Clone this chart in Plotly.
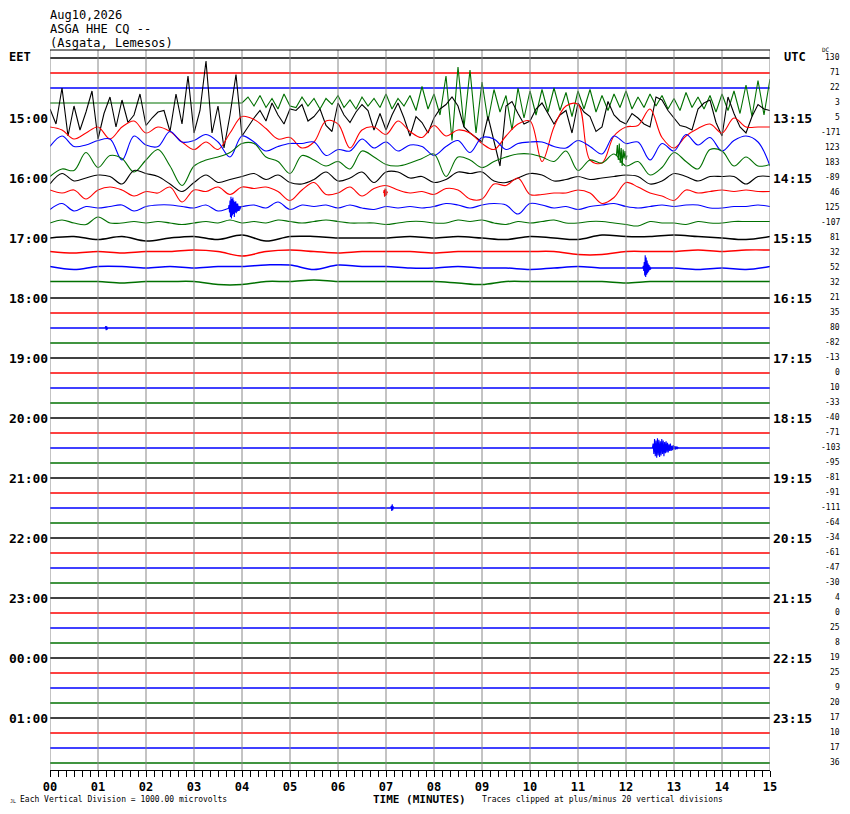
import plotly.graph_objects as go

# helicorder layout: 48 rows of 15 minutes, one division between rows
N_ROWS = 48
TOP_PAD = 8 / 15
COLORS = ['black', 'red', 'blue', '#007000']

EET_LABELS = ['15:00', '16:00', '17:00', '18:00', '19:00', '20:00',
              '21:00', '22:00', '23:00', '00:00', '01:00']
UTC_LABELS = ['13:15', '14:15', '15:15', '16:15', '17:15', '18:15',
              '19:15', '20:15', '21:15', '22:15', '23:15']
DC_VALUES = [130, 71, 22, 3, 5, -171, 123, 183, -89, 46, 125, -107,
             81, 32, 52, 32, 21, 35, 80, -82, -13, 0, 10, -33,
             -40, -71, -103, -95, -81, -91, -111, -64, -34, -61, -47, -30,
             4, 0, 25, 8, 19, 25, 9, 20, 17, 10, 17, 36]
MINUTE_LABELS = ['%02d' % m for m in range(16)]

# row 3 (green) and row 4 (black), sampled every 1/8 minute, in divisions
row3 = [0.0] * 33 + [
    0.4, -0.2, 0.5, -0.3, 0.3, -0.4, 0.6, -0.2,
    -0.3, 0.4, -0.2, 0.3, -0.4, 0.3, -0.1, 0.5, -0.3, 0.2, -0.4, 0.4, -0.2, 0.3,
    -0.3, 0.6, -0.4, 0.3, -0.2, 0.5, -0.5, 1.1, -0.4, 0.6, -0.8, 1.8, -2.5, 2.4,
    -1.6, 2.2, -2.0, 1.4, -1.2, 0.9, -0.6, 0.5, -1.8, 1.0, -1.0, 0.8,
    -0.8, 0.9, -0.6, 1.0, -0.5, 0.7, -0.9, 0.8, -0.4, 0.9, -0.6, 0.5, -0.5, 0.6,
    -0.3, 0.8, -0.4, 0.4, -0.3, 0.6, -0.2, 0.5, -0.4, 0.3, -0.5, 0.7, -0.3, 0.4,
    -0.4, 0.5, -0.6, 0.6, -0.5, 0.8, -0.7, 1.2, -0.9, 1.5, -0.8, 1.6]
row4 = [
    0.6, -0.4, 2.0, -1.2, 0.8, -0.8, 0.4, 1.8, -1.4, 0.3, 1.4, -0.6, 1.2, -0.3,
    0.2, 1.6, -0.5, 0.0, 0.4, 0.5, -0.9, 1.6, -0.4, 2.8, -1.0, 0.5, 3.8, -1.0,
    0.8, -2.0, 0.2, 2.9, -1.2, -0.6, 0.0, 0.5, -0.2, 1.0, 0.2, -0.4, 0.6,
    0.5, 0.9, -0.2, 0.1, 0.6, -0.5, -0.9, 1.0, 0.2, -0.3, 0.4, 0.9, 0.5, -0.8,
    0.3, -0.8, 0.2, 1.0, 0.0, -1.2, 0.1, -0.3, -1.0, 0.0, 0.6, 0.9, 1.4, 0.8,
    -0.6, -1.0, -1.3, -1.6, 0.1, -1.5, -3.2, 0.8, 1.1, 0.3, -0.4, -0.2,
    0.6, 1.0, 0.3, -0.4, 0.2, 0.5, -1.0, 1.0, 0.4, 0.1, -0.9, -0.6, 1.1, 0.2,
    -0.2, -0.4, 0.3, 0.0, -0.4, -0.6, 1.4, 1.2, 0.5, 0.0, -0.5, -0.6, -0.8, 0.6,
    1.0, 1.2, -0.3, -1.2, 1.4, 0.3, -0.6, -1.0, 0.1, 0.9, 0.6, 0.5]

# rows 5-11, sampled every 1/4 minute
row5 = [0.4, 0.2, -0.4, 0.0, 0.4, -0.4, 0.4, 0.8, 0.0, 0.4, 0.1, -0.6, -1.1, -0.6,
        -1.1, 0.0, 1.1, 0.9, 0.3, -0.4, -0.3,
        -1.0, -0.6, 0.8, 0.6, -1.0, 0.2, 0.4, -0.1, 0.8, 0.1, -0.3, 0.5, -0.2, 0.2,
        0.0, -0.7, -1.1, -0.2, 0.6, 0.8,
        -1.9, 0.4, 1.8, 1.9, -1.8, -2.0, -0.2, 0.4, 0.5, 1.6, -0.3, -1.0, -0.2, 0.3,
        0.6, 0.0, 1.0, 0.4, 0.4, 0.4]
row6 = [0.1, 0.8, 0.1, 0.2, 0.5, 0.6, -0.8, 0.8, 0.2, 0.1, 1.1, 0.4, 0.5, 0.9,
        0.4, -0.6, 0.8, 0.4, -0.2, 0.1, 0.3,
        0.3, 0.4, -0.5, -0.1, -0.2, 0.6, 0.0, 0.4, -0.2, 0.2, 0.1, -0.5, 0.1, 0.5,
        -0.3, 0.7, 0.6, -0.1, 0.3, 0.4,
        0.4, 0.1, 0.0, 0.5, 0.1, -0.4, 0.8, 0.3, 0.4, -0.8, 0.3, -0.2, 0.9, 0.2,
        0.7, -0.2, 0.5, 0.8, 0.4, -1.2]
row7 = [-0.9, -0.4, -0.5, 0.7, -0.3, 0.5, 0.3, -0.6, 0.2, 0.9, -0.2, -1.5, -0.2,
        0.2, 0.4, 0.7, 1.3, 1.3, 0.4, 0.1, -0.7,
        0.5, 0.2, -0.2, 0.1, -0.4, 0.8, 0.4, -0.1, -0.2, 0.0, 0.3, 0.6, -0.9, 0.4,
        0.2, -0.3, 0.1, 0.4, 0.6, 0.6,
        0.4, 0.1, 0.8, -0.5, 0.2, 0.0, 0.6, -0.2, 0.1, -0.8, -0.3, 0.7, 0.1, -0.4,
        0.9, 0.8, -0.2, 0.4, -0.2, -0.1]
row8 = [-0.4, 0.3, -0.2, 0.0, 0.2, 0.1, -0.4, 0.5, 0.3, 0.1, -0.4, -0.9, -0.3,
        0.2, -0.3, -0.1, 0.1, 0.3, -0.1, 0.2, -0.3,
        -0.4, -0.1, 0.4, -0.2, 0.0, 0.4, -0.3, 0.4, 0.4, 0.0, 0.1, -0.3, -0.1, 0.4,
        0.3, 0.4, -0.2, -0.3, 0.0, 0.3,
        0.2, -0.2, -0.1, 0.1, -0.1, 0.0, 0.1, 0.2, 0.1, -0.4, -0.2, 0.3, 0.1, -0.2,
        0.1, 0.1, 0.1, -0.4, 0.1, 0.1]
row9 = [0.2, 0.0, 0.2, -0.4, 0.2, 0.4, 0.2, -0.2, 0.1, 0.0, 0.4, -0.6, 0.2, 0.1,
        0.4, -0.1, 0.4, 0.3, 0.4, 0.1, -0.5, 0.2, 0.7, -0.1, 0.0, 0.4, -0.2, 0.3,
        0.5, 0.2, 0.0,
        0.1, -0.1, 0.3, 0.2, -0.4, -0.4, 0.6, 0.5, 1.0, -0.1, -0.1, 0.0, 0.0, 0.2,
        0.0, -0.7, -0.3, 0.7, 0.4, 0.0, -0.2, -0.5, 0.2, 0.0, 0.1, 0.2, 0.1, 0.2,
        0.1, 0.1]
row10 = [-0.1, 0.3, -0.2, 0.1, 0.0, 0.1, 0.2, -0.2, 0.1, 0.2, 0.2, 0.1, 0.0, 0.2,
         -0.2, 0.0, 0.1, 0.2, 0.0, 0.4, -0.1, 0.2, 0.1, 0.2, 0.0, 0.2, 0.0, -0.1,
         0.1, 0.0, 0.1,
         0.0, 0.1, 0.3, 0.2, 0.0, 0.2, 0.3, 0.2, -0.4, 0.3, 0.2, 0.0, 0.1, -0.1,
         0.1, 0.2, 0.3, 0.1, 0.0, 0.1, 0.2, 0.1, 0.2, 0.2, 0.0, 0.0, 0.1, 0.1,
         0.2, 0.1]
row11 = [0.0, 0.2, 0.0, -0.1, 0.4, 0.0, 0.0, 0.1, 0.0, 0.1, 0.0, -0.1, 0.0, 0.1,
         0.0, 0.2, 0.0, 0.1, 0.0, 0.2, 0.1, 0.0, 0.1, 0.2, 0.1, 0.0, 0.0, 0.0,
         -0.1, 0.0, 0.1,
         0.1, 0.0, 0.0, 0.2, 0.1, 0.2, 0.0, -0.1, 0.1, 0.0, 0.1, 0.2, 0.0, 0.0,
         0.1, 0.1, 0.0, -0.1, -0.2, 0.1, 0.0, 0.0, -0.1, 0.1, 0.0, 0.0, 0.1, 0.1,
         0.1, 0.1]

# rows 12-15, sampled every 1/2 minute
row12 = [0.0, 0.1, -0.1, 0.1, -0.2, 0.0, 0.1, -0.1, 0.2, -0.2, 0.1, 0.1, 0.0, 0.0,
         0.0, 0.1, 0.0, 0.1, 0.0, -0.1, 0.1, 0.0, -0.1, 0.2, 0.1, 0.1, 0.2, 0.1,
         0.0, -0.1, 0.1]
row13 = [0.1, 0.0, 0.1, 0.0, 0.1, 0.1, 0.2, 0.1, -0.2, 0.1, 0.2, 0.1, 0.0, 0.1,
         0.1, 0.1, 0.0, 0.1, 0.1, 0.1, 0.1, 0.1, -0.1, -0.1, 0.1, 0.1, 0.1, 0.2,
         0.1, 0.2, 0.2]
row14 = [0.1, -0.1, 0.1, 0.1, 0.0, 0.1, 0.0, 0.1, 0.1, 0.2, 0.2, -0.1, 0.2, 0.1,
         0.1, 0.0, 0.0, 0.1, 0.0, 0.0, -0.1, 0.0, 0.1, 0.0, 0.0, 0.0, 0.0, -0.1,
         0.0, -0.1, 0.1]
row15 = [0.1, 0.1, 0.1, 0.0, 0.1, 0.1, 0.1, -0.1, -0.1, 0.1, 0.1, 0.2, 0.1, 0.1,
         0.1, 0.1, 0.1, 0.0, -0.1, 0.1, 0.1, 0.1, 0.1, 0.1, 0.0, 0.1, 0.1, 0.1,
         0.1, 0.1, 0.1]

# local events: (row, start minute, step minute, values)
burst10 = [0, 0.2, -0.3, 0.5, -0.6, 0.75, -0.7, 0.6, -0.5, 0.7, -0.4, 0.5, -0.6,
           0.4, -0.3, 0.45, -0.35, 0.3, -0.25, 0.3, -0.2, 0.15, -0.2, 0.1, -0.1, 0.1, 0]
burst14 = [0, 0.15, -0.2, 0.4, -0.5, 0.85, -0.6, 0.7, -0.45, 0.5, -0.35, 0.3,
           -0.25, 0.2, -0.15, 0.1, -0.1, 0]
burst26 = [0, 0.3, -0.4, 0.6, -0.55, 0.5, -0.65, 0.65, -0.5, 0.55, -0.6, 0.45,
           -0.5, 0.6, -0.4, 0.5, -0.55, 0.4, -0.35, 0.45, -0.3, 0.35, -0.3, 0.25,
           -0.2, 0.3, -0.2, 0.15, -0.15, 0.2, -0.1, 0.12, -0.1, 0.1, -0.08, 0.05, 0]
burst9 = [0, 0.2, -0.25, 0.3, -0.2, 0.25, -0.15, 0.1, 0]
burst30 = [0, 0.15, -0.2, 0.25, -0.15, 0.1, 0]
burst18 = [0, 0.12, -0.15, 0.12, -0.1, 0]
burst7 = [0.5, 1.2, 0.2, 1.3, 0.0, 1.0, -0.2, 0.9, 0.3, 0.8, 0.2, 0.5]

rows = {3: (0.125, row3), 4: (0.125, row4),
        5: (0.25, row5), 6: (0.25, row6), 7: (0.25, row7), 8: (0.25, row8),
        9: (0.25, row9), 10: (0.25, row10), 11: (0.25, row11),
        12: (0.5, row12), 13: (0.5, row13), 14: (0.5, row14), 15: (0.5, row15)}
bursts = [(10, 3.72, 0.01, burst10), (14, 12.35, 0.01, burst14),
          (26, 12.55, 0.015, burst26), (9, 6.95, 0.01, burst9),
          (30, 7.1, 0.01, burst30), (18, 1.15, 0.01, burst18),
          (7, 11.8, 0.02, burst7)]

# the page body has an 8px margin all round; keep the figure inside the window
PAGE_OFF = 8


def base(i):
    return -(i + TOP_PAD)


# page pixel -> plot paper fraction (plot area spans page 50..770 both ways)
def px_x(px):
    return (px - 50) / 720


def px_y(py):
    return (770 - py) / 720


fig = go.Figure()

for i in range(N_ROWS):
    color = COLORS[i % 4]
    if i in rows:
        step, vals = rows[i]
        xs = [k * step for k in range(len(vals))]
        ys = [base(i) + v for v in vals]
        shape = 'linear' if step < 0.2 else 'spline'
        width = 1.1 if step < 0.4 else 1.5
    else:
        xs = [0, 15]
        ys = [base(i), base(i)]
        shape = 'linear'
        width = 1.6
    fig.add_trace(go.Scatter(x=xs, y=ys, mode='lines', hoverinfo='skip',
                             line=dict(color=color, width=width, shape=shape),
                             showlegend=False))

for row, start, step, vals in bursts:
    fig.add_trace(go.Scatter(x=[start + k * step for k in range(len(vals))],
                             y=[base(row) + v for v in vals],
                             mode='lines', hoverinfo='skip', showlegend=False,
                             line=dict(color=COLORS[row % 4], width=1.1)))

shapes = []
for m in range(16):
    shapes.append(dict(type='line', xref='x', yref='paper', x0=m, x1=m, y0=0, y1=1,
                       line=dict(color='#888888', width=1), layer='above'))
shapes.append(dict(type='line', xref='x', yref='paper', x0=0, x1=15, y0=1, y1=1,
                   line=dict(color='black', width=1)))

mono = 'DejaVu Sans Mono'
annotations = []


def note(text, px, py, size, anchor='left', bold=False, yref_trace=None):
    annotations.append(dict(
        text=text, x=px_x(px), xref='paper',
        y=px_y(py) if yref_trace is None else yref_trace,
        yref='paper' if yref_trace is None else 'y',
        xanchor=anchor, yanchor='middle', showarrow=False, borderpad=0,
        font=dict(family=mono, size=size, color='black',
                  weight='bold' if bold else 'normal')))


note('Aug10,2026', 49, 15, 12)
note('ASGA HHE CQ --', 49, 29, 12)
note('(Asgata, Lemesos)', 49, 43, 12)
note('EET', 8, 57, 12, bold=True)
note('UTC', 783, 57, 12, bold=True)
note('DC', 821, 49, 6)

for n, lab in enumerate(EET_LABELS):
    note(lab, 49, 0, 13, anchor='right', bold=True, yref_trace=base(4 + 4 * n))
for n, lab in enumerate(UTC_LABELS):
    note(lab, 772, 0, 13, bold=True, yref_trace=base(4 + 4 * n))
for i, dc in enumerate(DC_VALUES):
    note(str(dc), 841, 0, 8, anchor='right', yref_trace=base(i) + 0.05)

note('Each Vertical Division = 1000.00 microvolts', 19, 799, 8)
note('TIME (MINUTES)', 372, 799, 11, bold=True)
note('Traces clipped at plus/minus 20 vertical divisions', 481, 799, 8)
note('JL', 9, 801, 5)

fig.update_layout(
    width=850 - 2 * PAGE_OFF, height=814 - 2 * PAGE_OFF,
    margin=dict(l=50 - PAGE_OFF, r=850 - 2 * PAGE_OFF - 42 - 720,
                t=50 - PAGE_OFF, b=814 - 2 * PAGE_OFF - 42 - 720, pad=0),
    paper_bgcolor='white', plot_bgcolor='white',
    shapes=shapes, annotations=annotations,
    xaxis=dict(range=[0, 15], showgrid=False, zeroline=False,
               showline=True, linecolor='black', linewidth=1,
               ticks='outside', ticklen=6, tickcolor='black', tickwidth=1,
               tickmode='array', tickvals=list(range(16)), ticktext=MINUTE_LABELS,
               tickfont=dict(family=mono, size=12, color='black', weight='bold'),
               minor=dict(ticks='outside', ticklen=6, tickcolor='black',
                          tickwidth=1, dtick=1 / 6, showgrid=False)),
    yaxis=dict(range=[-N_ROWS, 0], visible=False, showgrid=False, zeroline=False),
)

fig.write_html("out.html")
